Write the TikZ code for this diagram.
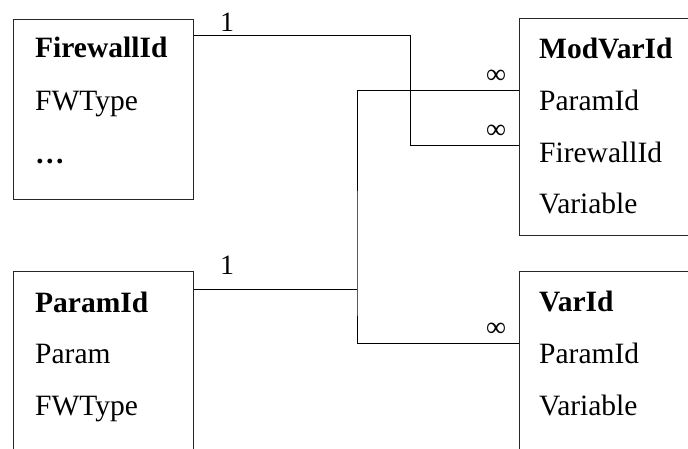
\documentclass[tikz,border=0pt]{standalone}
\usepackage{fontspec}
\setmainfont{Liberation Serif}
\begin{document}
\begin{tikzpicture}[x=1pt,y=-1pt,
  table/.style={draw=black!85,line width=0.9pt,rectangle,anchor=north west,inner sep=0pt},
  field/.style={anchor=base west,inner sep=0pt,font=\fontsize{29.5}{30}\selectfont},
  key/.style={field,font=\fontsize{29.5}{30}\selectfont\bfseries},
  mult/.style={inner sep=0pt,font=\fontsize{28}{29}\selectfont},
  link/.style={draw=black,line width=0.9pt}]
\useasboundingbox (0,0) rectangle (688,448);
\clip (0,0) rectangle (688,448);

% tables
\node[table,minimum width=180pt,minimum height=180pt] (fw) at (13,19) {};
\node[table,minimum width=200pt,minimum height=217pt] (mv) at (519,18) {};
\node[table,minimum width=180pt,minimum height=200pt] (pa) at (13,271) {};
\node[table,minimum width=200pt,minimum height=200pt] (va) at (519,271) {};

% FirewallId table
\node[key]   (fw1) at (35,57)  {FirewallId};
\node[field] (fw2) at (35,110) {FWType};
\node[key]   (fw3) at (35,163) {\dots};

% ModVarId table
\node[key]   (mv1) at (539,58)  {ModVarId};
\node[field] (mv2) at (539,110) {ParamId};
\node[field] (mv3) at (539,162) {FirewallId};
\node[field] (mv4) at (539,213) {Variable};

% ParamId table
\node[key]   (pa1) at (35,312) {ParamId};
\node[field] (pa2) at (35,363) {Param};
\node[field] (pa3) at (35,415) {FWType};

% VarId table
\node[key]   (va1) at (539,311) {VarId};
\node[field] (va2) at (539,363) {ParamId};
\node[field] (va3) at (539,415) {Variable};

% ports on the table borders
\coordinate (fwout) at (fw.north east |- 0,35);
\coordinate (paout) at (pa.north east |- 0,289);
\coordinate (mvfw) at (mv.north west |- 0,145);
\coordinate (mvpa) at (mv.north west |- 0,90);
\coordinate (vapa) at (va.north west |- 0,343);
\coordinate (bus) at (357,289);

% relations
\draw[link] (fwout) -| (410,145) -- (mvfw);
\draw[link] (paout) -- (bus);
\draw[link] (mvpa) -| (bus) |- (vapa);

% multiplicities
\node[mult] (m1) at (227,22)  {1};
\node[mult] (m2) at (227,265) {1};
\node[mult] (m3) at (496,77)  {∞};
\node[mult] (m4) at (496,132) {∞};
\node[mult] (m5) at (496,330) {∞};
\end{tikzpicture}
\end{document}
